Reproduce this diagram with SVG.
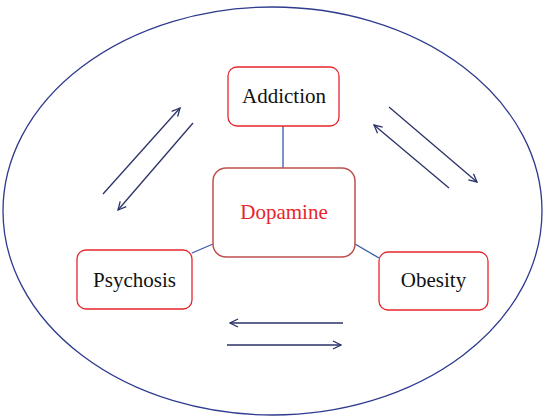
<svg xmlns="http://www.w3.org/2000/svg" width="544" height="418" viewBox="0 0 544 418">
<defs>
<marker id="ah" viewBox="0 0 10 10" refX="9" refY="5" markerWidth="10" markerHeight="10" markerUnits="userSpaceOnUse" orient="auto">
<path d="M1,1 L9,5 L1,9" fill="none" stroke="#2b3268" stroke-width="1.3"/>
</marker>
<style>
.box{fill:#fff;stroke:#e8242c;stroke-width:1.3}
.dbox{fill:#fff;stroke:#c0504d;stroke-width:1.5}
.lbl{font-family:"Liberation Serif",serif;font-size:21px;fill:#111;text-anchor:middle}
.red{fill:#e8242c}
.link{stroke:#3a57a8;stroke-width:1.3;fill:none}
.arr{stroke:#2b3268;stroke-width:1.3;fill:none;marker-end:url(#ah)}
</style>
</defs>
<rect width="544" height="418" fill="#fff"/>
<ellipse cx="272.5" cy="211" rx="269.5" ry="204" fill="none" stroke="#2e3b8e" stroke-width="1.3"/>
<g id="connectors">
<line class="link" x1="283" y1="126" x2="283" y2="168"/>
<line class="link" x1="213" y1="244" x2="192" y2="253"/>
<line class="link" x1="355" y1="244" x2="379" y2="258"/>
<line class="arr" x1="103" y1="194" x2="180" y2="108"/>
<line class="arr" x1="193" y1="123" x2="118" y2="210"/>
<line class="arr" x1="389" y1="107" x2="477" y2="182"/>
<line class="arr" x1="449" y1="188" x2="374" y2="125"/>
<line class="arr" x1="343" y1="323" x2="230" y2="323"/>
<line class="arr" x1="227" y1="345" x2="341" y2="345"/>
</g>
<g id="addiction">
<rect class="box" x="228" y="67" width="111" height="59" rx="9"/>
<text class="lbl" x="284" y="103">Addiction</text>
</g>
<g id="dopamine">
<rect class="dbox" x="213" y="168" width="142" height="89" rx="13"/>
<text class="lbl red" x="284" y="219">Dopamine</text>
</g>
<g id="psychosis">
<rect class="box" x="77" y="250" width="115" height="59" rx="9"/>
<text class="lbl" x="134.5" y="287">Psychosis</text>
</g>
<g id="obesity">
<rect class="box" x="379" y="252" width="109" height="58" rx="9"/>
<text class="lbl" x="433.5" y="287">Obesity</text>
</g>
</svg>
